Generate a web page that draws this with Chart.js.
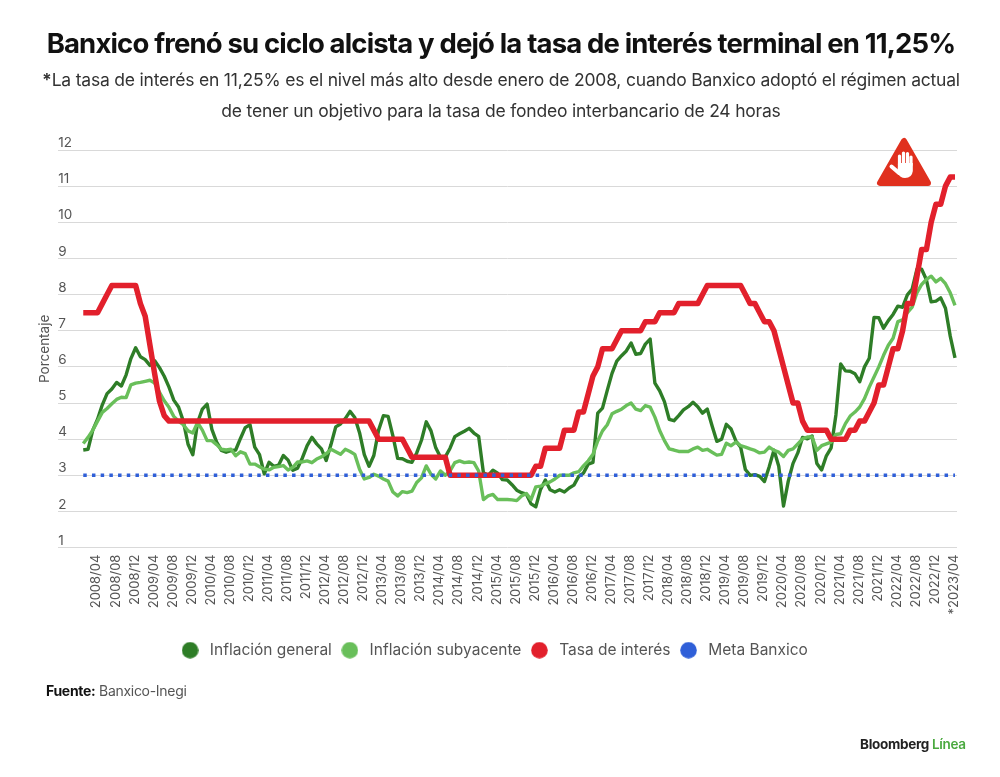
<!DOCTYPE html>
<html lang="es">
<head>
<meta charset="UTF-8">
<title>Banxico - tasa de interés</title>
<script src="https://cdn.jsdelivr.net/npm/chart.js"></script>
<style>
    body { margin: 0; background: #fff; font-family: Inter, sans-serif; }
    #lienzo { position: relative; width: 1000px; height: 777px; overflow: hidden; }
    canvas { position: absolute; left: 0; top: 0; }
    .texto { position: absolute; white-space: nowrap; }
    #titulo { left: 1px; width: 1000px; top: 26px; text-align: center; font-size: 27.5px; font-weight: 700; color: #111; letter-spacing: -0.84px; }
    .sub { left: 1px; width: 1000px; text-align: center; font-size: 17.5px; color: #333; letter-spacing: -0.2px; }
    #fuente { left: 46px; top: 682px; font-size: 14px; color: #555; letter-spacing: -0.3px; }
    #fuente b { color: #111; }
    #marca { left: 860px; top: 736px; font-size: 13.5px; font-weight: 700; color: #222; letter-spacing: -0.3px; }
    #marca span { color: #4aa93f; font-weight: 600; }
    #alto { position: absolute; left: 870px; top: 130px; }
</style>
</head>
<body>
<div id="lienzo">
    <canvas id="grafico" width="1000" height="777"></canvas>
    <div class="texto" id="titulo">Banxico frenó su ciclo alcista y dejó la tasa de interés terminal en 11,25%</div>
    <div class="texto sub" style="top:69px"><b>*</b>La tasa de interés en 11,25% es el nivel más alto desde enero de 2008, cuando Banxico adoptó el régimen actual</div>
    <div class="texto sub" style="top:100px">de tener un objetivo para la tasa de fondeo interbancario de 24 horas</div>
    <div class="texto" id="fuente"><b>Fuente:</b> Banxico-Inegi</div>
    <div class="texto" id="marca">Bloomberg <span>Línea</span></div>
    <svg id="alto" width="68" height="62" viewBox="0 0 68 62">
        <path d="M34 11 L10 53 L58 53 Z" fill="#e0301e" stroke="#e0301e" stroke-width="6" stroke-linejoin="round"/>
        <g stroke="#fff" stroke-linecap="round" fill="none">
            <path d="M29.5 35 V26 M33.5 35 V23 M37.5 35 V23.5 M41 35 V27" stroke-width="3.2"/>
            <path d="M29 43 L21.5 36.5" stroke-width="4"/>
        </g>
        <path d="M28 33 H42.8 V41 Q42 48 35 48 Q30 48 27.5 43 Z" fill="#fff"/>
    </svg>
</div>
<script>
    // ticks del eje x (cada 4 meses) y del eje y
    const etiquetas = ['2008/04','2008/08','2008/12','2009/04','2009/08','2009/12','2010/04','2010/08','2010/12',
        '2011/04','2011/08','2011/12','2012/04','2012/08','2012/12','2013/04','2013/08','2013/12',
        '2014/04','2014/08','2014/12','2015/04','2015/08','2015/12','2016/04','2016/08','2016/12',
        '2017/04','2017/08','2017/12','2018/04','2018/08','2018/12','2019/04','2019/08','2019/12',
        '2020/04','2020/08','2020/12','2021/04','2021/08','2021/12','2022/04','2022/08','2022/12','*2023/04'];
    const ticksY = [1,2,3,4,5,6,7,8,9,10,11,12];

    // series mensuales, 2008/01 a 2023/04
    const inflacionGeneral = [
        3.70,3.72,4.25,4.55,4.95,5.26,5.39,5.57,5.47,5.78,6.23,6.53,
        6.28,6.20,6.04,6.17,5.98,5.74,5.44,5.08,4.89,4.50,3.86,3.57,
        4.46,4.83,4.97,4.27,3.92,3.69,3.64,3.68,3.70,4.02,4.32,4.40,
        3.78,3.57,3.04,3.36,3.25,3.28,3.55,3.42,3.14,3.20,3.48,3.82,
        4.05,3.87,3.73,3.41,3.85,4.34,4.42,4.57,4.77,4.60,4.18,3.57,
        3.25,3.55,4.25,4.65,4.63,4.09,3.47,3.46,3.39,3.36,3.62,3.97,
        4.48,4.23,3.76,3.50,3.51,3.75,4.07,4.15,4.22,4.30,4.17,4.08,
        3.07,3.00,3.14,3.06,2.88,2.87,2.74,2.59,2.52,2.48,2.21,2.13,
        2.61,2.87,2.60,2.54,2.60,2.54,2.65,2.73,2.97,3.06,3.31,3.36,
        4.72,4.86,5.35,5.82,6.16,6.31,6.44,6.66,6.35,6.37,6.63,6.77,
        5.55,5.34,5.04,4.55,4.51,4.65,4.81,4.90,5.02,4.90,4.72,4.83,
        4.37,3.94,4.00,4.41,4.28,3.95,3.78,3.16,3.00,3.02,2.97,2.83,
        3.24,3.70,3.25,2.15,2.84,3.33,3.62,4.05,4.01,4.09,3.33,3.15,
        3.54,3.76,4.67,6.08,5.89,5.88,5.81,5.59,6.00,6.24,7.37,7.36,
        7.07,7.28,7.45,7.68,7.65,7.99,8.15,8.70,8.70,8.41,7.80,7.82,
        7.91,7.62,6.85,6.25];
    const inflacionSubyacente = [
        3.88,4.05,4.25,4.50,4.74,4.85,4.98,5.10,5.16,5.15,5.50,5.55,
        5.57,5.60,5.63,5.55,5.30,5.06,4.88,4.63,4.50,4.40,4.23,4.17,
        4.46,4.25,3.96,3.96,3.85,3.72,3.70,3.72,3.54,3.65,3.60,3.31,
        3.31,3.24,3.17,3.15,3.22,3.24,3.27,3.15,3.22,3.37,3.37,3.40,
        3.35,3.45,3.51,3.60,3.72,3.65,3.58,3.72,3.66,3.58,3.17,2.90,
        2.94,3.03,2.98,2.90,2.84,2.54,2.43,2.55,2.52,2.56,2.80,2.93,
        3.26,3.03,2.90,3.12,3.00,3.12,3.35,3.40,3.35,3.37,3.35,3.12,
        2.33,2.43,2.47,2.33,2.33,2.33,2.32,2.30,2.43,2.50,2.33,2.68,
        2.70,2.77,2.82,2.90,3.00,3.00,3.00,3.07,3.10,3.26,3.40,3.58,
        3.95,4.23,4.40,4.70,4.77,4.83,4.93,5.00,4.83,4.79,4.93,4.89,
        4.61,4.24,3.96,3.73,3.70,3.66,3.66,3.66,3.73,3.78,3.69,3.72,
        3.64,3.56,3.58,3.89,3.82,3.92,3.82,3.78,3.73,3.69,3.62,3.64,
        3.78,3.69,3.64,3.52,3.69,3.73,3.87,4.01,4.06,4.06,3.69,3.82,
        3.87,3.92,4.13,4.15,4.43,4.64,4.75,4.89,5.12,5.44,5.72,6.00,
        6.32,6.60,6.79,7.25,7.30,7.50,7.65,8.05,8.28,8.42,8.51,8.35,
        8.45,8.30,8.05,7.70];
    const tasaInteres = [
        7.5,7.5,7.5,7.5,7.75,8,8.25,8.25,8.25,8.25,8.25,8.25,
        7.75,7.4,6.6,5.8,5.05,4.65,4.5,4.5,4.5,4.5,4.5,4.5,
        4.5,4.5,4.5,4.5,4.5,4.5,4.5,4.5,4.5,4.5,4.5,4.5,
        4.5,4.5,4.5,4.5,4.5,4.5,4.5,4.5,4.5,4.5,4.5,4.5,
        4.5,4.5,4.5,4.5,4.5,4.5,4.5,4.5,4.5,4.5,4.5,4.5,
        4.5,4.25,4,4,4,4,4,4,3.75,3.5,3.5,3.5,
        3.5,3.5,3.5,3.5,3.5,3,3,3,3,3,3,3,
        3,3,3,3,3,3,3,3,3,3,3,3.25,
        3.25,3.75,3.75,3.75,3.75,4.25,4.25,4.25,4.75,4.75,5.25,5.75,
        6,6.5,6.5,6.5,6.75,7,7,7,7,7,7.25,7.25,
        7.25,7.5,7.5,7.5,7.5,7.75,7.75,7.75,7.75,7.75,8,8.25,
        8.25,8.25,8.25,8.25,8.25,8.25,8.25,8,7.75,7.75,7.5,7.25,
        7.25,7,6.5,6,5.5,5,5,4.5,4.25,4.25,4.25,4.25,
        4.25,4,4,4,4,4.25,4.25,4.5,4.5,4.75,5,5.5,
        5.5,6,6.5,6.5,7,7.75,7.75,8.5,9.25,9.25,10,10.5,
        10.5,11,11.25,11.25];
    const metaBanxico = [
        3,3,3,3,3,3,3,3,3,3,3,3, 3,3,3,3,3,3,3,3,3,3,3,3,
        3,3,3,3,3,3,3,3,3,3,3,3, 3,3,3,3,3,3,3,3,3,3,3,3,
        3,3,3,3,3,3,3,3,3,3,3,3, 3,3,3,3,3,3,3,3,3,3,3,3,
        3,3,3,3,3,3,3,3,3,3,3,3, 3,3,3,3,3,3,3,3,3,3,3,3,
        3,3,3,3,3,3,3,3,3,3,3,3, 3,3,3,3,3,3,3,3,3,3,3,3,
        3,3,3,3,3,3,3,3,3,3,3,3, 3,3,3,3,3,3,3,3,3,3,3,3,
        3,3,3,3,3,3,3,3,3,3,3,3, 3,3,3,3,3,3,3,3,3,3,3,3,
        3,3,3,3,3,3,3,3,3,3,3,3, 3,3,3,3];

    const gris = '#555';

    function puntos(valores) {
        return valores.map((y, i) => ({ x: i, y: y }));
    }

    function serie(nombre, valores, color, ancho, orden) {
        return {
            label: nombre,
            data: puntos(valores),
            borderColor: color,
            backgroundColor: color,
            borderWidth: ancho,
            pointRadius: 0,
            tension: 0,
            borderJoinStyle: 'round',
            order: orden
        };
    }

    // circulo de la leyenda, a su tamaño natural
    function circulo(color) {
        const c = document.createElement('canvas');
        c.width = 17;
        c.height = 17;
        const ctx = c.getContext('2d');
        ctx.fillStyle = color;
        ctx.beginPath();
        ctx.arc(8.5, 8.5, 8.3, 0, Math.PI * 2);
        ctx.fill();
        return c;
    }

    const meta = serie('Meta Banxico', metaBanxico, '#2f5fd8', 3.5, 0);
    meta.borderDash = [3.5, 5.2];

    // la leyenda original no esta centrada en el area del grafico
    const moverLeyenda = {
        id: 'moverLeyenda',
        afterLayout(chart) {
            chart.legend.left -= 4;
            chart.legend.right -= 4;
        }
    };

    new Chart(document.getElementById('grafico'), {
        type: 'line',
        plugins: [moverLeyenda],
        data: {
            datasets: [
                serie('Inflación general', inflacionGeneral, '#2e7d27', 3.4, 3),
                serie('Inflación subyacente', inflacionSubyacente, '#69bf5a', 3.4, 2),
                serie('Tasa de interés', tasaInteres, '#e2202c', 5.5, 1),
                meta
            ]
        },
        options: {
            responsive: false,
            animation: false,
            layout: { padding: { left: 37, right: 43, top: 150, bottom: 109 } },
            plugins: {
                legend: {
                    position: 'bottom',
                    labels: {
                        usePointStyle: true,
                        boxHeight: 11,
                        pointStyleWidth: 24,
                        padding: 6,
                        color: gris,
                        font: { family: 'Inter', size: 15.5 },
                        generateLabels(chart) {
                            return chart.data.datasets.map((d, i) => ({
                                text: d.label,
                                fillStyle: d.borderColor,
                                strokeStyle: d.borderColor,
                                lineWidth: 0,
                                pointStyle: circulo(d.borderColor),
                                fontColor: gris,
                                datasetIndex: i
                            }));
                        }
                    }
                },
                tooltip: { enabled: false }
            },
            scales: {
                x: {
                    type: 'linear',
                    min: -5.26,
                    max: 183.42,
                    grid: { display: false },
                    border: { display: false },
                    afterBuildTicks(eje) {
                        eje.ticks = etiquetas.map((e, k) => ({ value: 3 + k * 4, label: e }));
                    },
                    afterFit(eje) {
                        eje.height += 23;
                    },
                    ticks: {
                        autoSkip: false,
                        minRotation: 90,
                        maxRotation: 90,
                        padding: -1,
                        labelOffset: -1,
                        color: gris,
                        font: { family: 'Inter', size: 13 },
                        callback(valor) {
                            return etiquetas[(valor - 3) / 4];
                        }
                    }
                },
                y: {
                    min: 1,
                    max: 12,
                    afterBuildTicks(eje) {
                        eje.ticks = ticksY.map(v => ({ value: v }));
                    },
                    grid: { color: '#d9d9d9', drawTicks: false, lineWidth: 1 },
                    border: { display: false },
                    title: {
                        display: true,
                        text: 'Porcentaje',
                        color: gris,
                        font: { family: 'Inter', size: 13.5 },
                        padding: { top: 0, bottom: 5 }
                    },
                    ticks: {
                        mirror: true,
                        labelOffset: -7,
                        padding: 0,
                        color: gris,
                        font: { family: 'Inter', size: 13.5 }
                    }
                }
            }
        }
    });
</script>
</body>
</html>
